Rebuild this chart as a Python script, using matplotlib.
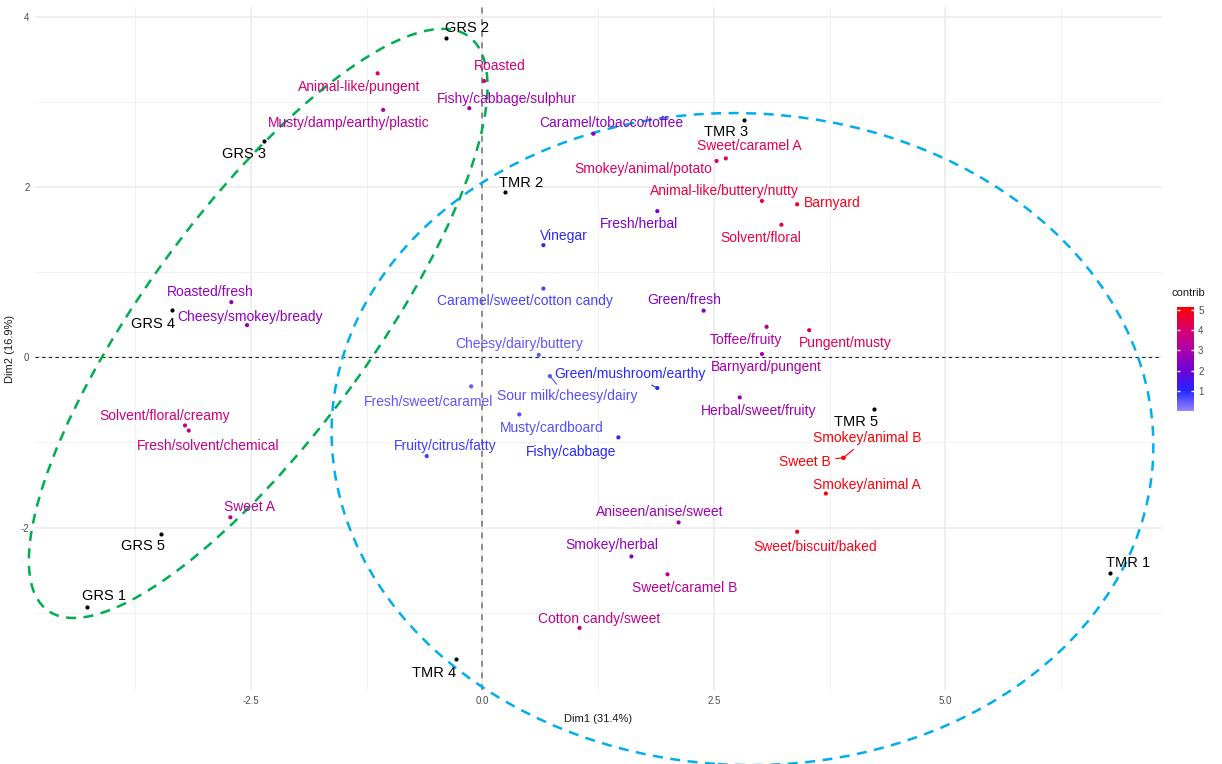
import numpy as np
import matplotlib
matplotlib.use("Agg")
import matplotlib.pyplot as plt
from matplotlib.patches import Ellipse
from matplotlib.colors import LinearSegmentedColormap, Normalize

plt.rcParams['font.family'] = ['Liberation Sans', 'DejaVu Sans']

# individual scores (PCA, Dim1 / Dim2)
ind_names = ['GRS 1', 'GRS 2', 'GRS 3', 'GRS 4', 'GRS 5',
             'TMR 1', 'TMR 2', 'TMR 3', 'TMR 4', 'TMR 5']
ind_dim1 = [-4.27, -0.39, -2.36, -3.35, -3.47, 6.78, 0.25, 2.83, -0.28, 4.23]
ind_dim2 = [-2.94, 3.76, 2.55, 0.56, -2.08, -2.53, 1.94, 2.79, -3.55, -0.61]
ind_group = ['GRS'] * 5 + ['TMR'] * 5

# odour attributes (scaled loadings) and their contributions
var_names = ['Animal-like/pungent', 'Musty/damp/earthy/plastic', 'Roasted',
             'Fishy/cabbage/sulphur', 'Caramel/tobacco/toffee', 'Sweet/caramel A',
             'Smokey/animal/potato', 'Animal-like/buttery/nutty', 'Barnyard',
             'Fresh/herbal', 'Solvent/floral', 'Vinegar', 'Roasted/fresh',
             'Cheesy/smokey/bready', 'Solvent/floral/creamy', 'Fresh/solvent/chemical',
             'Fresh/sweet/caramel', 'Fruity/citrus/fatty', 'Caramel/sweet/cotton candy',
             'Cheesy/dairy/buttery', 'Green/mushroom/earthy', 'Sour milk/cheesy/dairy',
             'Musty/cardboard', 'Fishy/cabbage', 'Green/fresh', 'Toffee/fruity',
             'Pungent/musty', 'Barnyard/pungent', 'Herbal/sweet/fruity',
             'Smokey/animal B', 'Sweet B', 'Smokey/animal A', 'Aniseen/anise/sweet',
             'Smokey/herbal', 'Sweet/caramel B', 'Sweet/biscuit/baked',
             'Cotton candy/sweet', 'Sweet A']
var_dim1 = [-1.13, -1.07, 0.02, -0.14, 1.20, 2.63, 2.53, 3.02, 3.40, 1.89, 3.23, 0.66,
            -2.71, -2.54, -3.21, -3.17, -0.12, -0.60, 0.66, 0.61, 1.89, 0.73, 0.40,
            1.47, 2.39, 3.07, 3.53, 3.02, 2.78, 3.90, 3.90, 3.71, 2.12, 1.61, 2.00,
            3.40, 1.05, -2.72]
var_dim2 = [3.34, 2.91, 3.25, 2.93, 2.63, 2.34, 2.31, 1.84, 1.80, 1.72, 1.56, 1.32,
            0.65, 0.38, -0.80, -0.86, -0.34, -1.16, 0.81, 0.03, -0.36, -0.22, -0.67,
            -0.94, 0.55, 0.36, 0.32, 0.04, -0.47, -1.18, -1.18, -1.60, -1.94, -2.34,
            -2.55, -2.05, -3.18, -1.88]
var_contrib = [4.0, 3.3, 3.8, 2.9, 2.6, 4.4, 4.1, 4.5, 4.9, 2.3, 4.5, 1.0,
               2.6, 2.6, 3.8, 3.6, 0.5, 0.8, 0.7, 0.5, 1.0, 0.6, 0.6,
               1.0, 2.3, 3.1, 4.3, 3.0, 2.8, 5.1, 5.1, 5.0, 2.8, 2.6, 3.3,
               4.9, 3.5, 3.4]

# confidence ellipses per group: centre, semi-axes, rotation (deg)
ell_groups = ['GRS', 'TMR']
ell_center = [(-2.42, 0.40), (2.81, -0.96)]
ell_semi = [(4.07, 1.25), (4.44, 3.83)]
ell_angle = [56.5, -4.0]
ell_colors = {'GRS': '#00AD50', 'TMR': '#00AEEF'}

# label nudges in pixels (dx right, dy up)
ind_offsets = {'GRS 1': (17, 11), 'GRS 2': (21, 10), 'GRS 3': (-20, -13),
               'GRS 4': (-19, -14), 'GRS 5': (-18, -12), 'TMR 1': (18, 10),
               'TMR 2': (16, 9), 'TMR 3': (-18, -12), 'TMR 4': (-22, -14),
               'TMR 5': (-18, -13)}
var_offsets = {'Animal-like/pungent': (-18, -14), 'Musty/damp/earthy/plastic': (-35, -13),
               'Roasted': (16, 15), 'Fishy/cabbage/sulphur': (37, 9),
               'Caramel/tobacco/toffee': (18, 11), 'Sweet/caramel A': (23, 12),
               'Smokey/animal/potato': (-73, -8), 'Animal-like/buttery/nutty': (-38, 10),
               'Barnyard': (35, 1), 'Fresh/herbal': (-18, -13), 'Solvent/floral': (-21, -13),
               'Vinegar': (20, 9), 'Roasted/fresh': (-21, 10), 'Cheesy/smokey/bready': (3, 8),
               'Solvent/floral/creamy': (-20, 9), 'Fresh/solvent/chemical': (19, -15),
               'Fresh/sweet/caramel': (-43, -16), 'Fruity/citrus/fatty': (18, 10),
               'Caramel/sweet/cotton candy': (-18, -12), 'Cheesy/dairy/buttery': (-20, 11),
               'Green/mushroom/earthy': (-27, 14), 'Sour milk/cheesy/dairy': (17, -20),
               'Musty/cardboard': (32, -14), 'Fishy/cabbage': (-47, -15),
               'Green/fresh': (-19, 11), 'Toffee/fruity': (-21, -13),
               'Pungent/musty': (36, -13), 'Barnyard/pungent': (4, -13),
               'Herbal/sweet/fruity': (19, -14), 'Smokey/animal B': (24, 20),
               'Sweet B': (-39, -4), 'Smokey/animal A': (41, 9),
               'Aniseen/anise/sweet': (-19, 10), 'Smokey/herbal': (-20, 11),
               'Sweet/caramel B': (17, -14), 'Sweet/biscuit/baked': (18, -15),
               'Cotton candy/sweet': (20, 9), 'Sweet A': (19, 10)}
with_segment = {'Green/mushroom/earthy', 'Sour milk/cheesy/dairy', 'Smokey/animal B', 'Sweet B'}

contrib_cmap = LinearSegmentedColormap.from_list(
    'contrib', [(0.0, '#9585FF'), (0.2, '#2424FF'), (0.4, '#7200D4'),
                (0.6, '#AE00A6'), (0.8, '#DC0066'), (1.0, '#FF0000')])
norm = Normalize(vmin=0.0, vmax=5.15)

fig = plt.figure(figsize=(12.22, 7.64), dpi=100)
ax = fig.add_axes([35 / 1222, 1 - 690 / 764, 1127 / 1222, 683 / 764])
ax.set_xlim(-4.83, 7.34)
ax.set_ylim(-3.91, 4.12)

# theme_minimal style grid
for s in ax.spines.values():
    s.set_visible(False)
ax.set_xticks([-2.5, 0.0, 2.5, 5.0])
ax.set_xticklabels(['-2.5', '0.0', '2.5', '5.0'])
ax.set_yticks([-2, 0, 2, 4])
ax.set_yticklabels(['-2', '0', '2', '4'])
ax.set_xticks([-3.75, -1.25, 1.25, 3.75, 6.25], minor=True)
ax.set_yticks([-3, -1, 1, 3], minor=True)
ax.grid(True, which='major', color='#EBEBEB', lw=1.1)
ax.grid(True, which='minor', color='#F2F2F2', lw=0.8)
ax.tick_params(which='both', length=0, labelsize=7, labelcolor='#4D4D4D', pad=4)
ax.set_axisbelow(True)
ax.set_xlabel('Dim1 (31.4%)', fontsize=8, color='#1A1A1A', labelpad=6)
ax.set_ylabel('Dim2 (16.9%)', fontsize=8, color='#1A1A1A', labelpad=4)

ax.axhline(0, color='#222222', ls=(0, (3, 3)), lw=0.8, zorder=1)
ax.axvline(0, color='#8C8C8C', ls=(0, (3, 3)), lw=1.4, zorder=1)

for g, c, (w, h), a in zip(ell_groups, ell_center, ell_semi, ell_angle):
    ax.add_patch(Ellipse(c, 2 * w, 2 * h, angle=a, fill=False, ec=ell_colors[g],
                         lw=1.8, ls=(0, (4, 3)), clip_on=False, zorder=2))

# attributes
var_colors = contrib_cmap(norm(np.array(var_contrib)))
ax.scatter(var_dim1, var_dim2, s=9, c=var_colors, zorder=4, linewidths=0)
for name, x, y, col in zip(var_names, var_dim1, var_dim2, var_colors):
    dx, dy = var_offsets[name]
    arrow = None
    if name in with_segment:
        arrow = dict(arrowstyle='-', color=col, lw=0.8, shrinkA=2, shrinkB=1)
    ax.annotate(name, (x, y), xytext=(dx, dy), textcoords='offset pixels',
                ha='center', va='center', fontsize=10, color=col,
                arrowprops=arrow, zorder=5)

# individuals
ax.scatter(ind_dim1, ind_dim2, s=9, c='black', zorder=4, linewidths=0)
for name, x, y in zip(ind_names, ind_dim1, ind_dim2):
    dx, dy = ind_offsets[name]
    ax.annotate(name, (x, y), xytext=(dx, dy), textcoords='offset pixels',
                ha='center', va='center', fontsize=10.5, color='black', zorder=5)

# contribution colour bar
cax = fig.add_axes([1177 / 1222, 1 - 411 / 764, 17 / 1222, 104 / 764])
cb = fig.colorbar(plt.cm.ScalarMappable(norm=norm, cmap=contrib_cmap), cax=cax)
cb.outline.set_visible(False)
cb.set_ticks([1, 2, 3, 4, 5])
cax.tick_params(length=0, labelsize=7, labelcolor='#4D4D4D', pad=3)
for t in [1, 2, 3, 4, 5]:
    cax.hlines(t, 0.0, 0.18, transform=cax.get_yaxis_transform(), color='white', lw=1)
    cax.hlines(t, 0.82, 1.0, transform=cax.get_yaxis_transform(), color='white', lw=1)
fig.text(1172 / 1222, 1 - 293 / 764, 'contrib', fontsize=8, color='#1A1A1A',
         ha='left', va='center')

fig.savefig('out.png', dpi=100, facecolor='white')
